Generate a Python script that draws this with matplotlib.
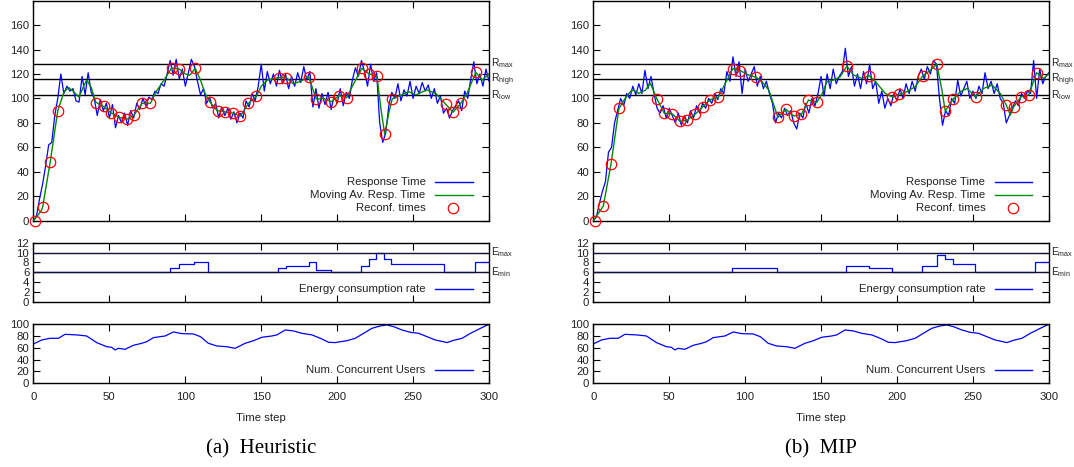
import numpy as np
import matplotlib
matplotlib.use("Agg")
import matplotlib.pyplot as plt
from matplotlib.lines import Line2D

plt.rcParams["font.family"] = ["Liberation Sans", "DejaVu Sans"]
plt.rcParams["mathtext.fontset"] = "custom"
plt.rcParams["mathtext.rm"] = "Liberation Sans"
plt.rcParams["mathtext.it"] = "Liberation Sans:italic"

# ---------------- data ----------------
time_steps = np.arange(0, 301, 2)

rt_heur = [0, 4, 18, 30, 45, 62, 64, 86, 100, 120, 104, 110, 106, 108, 98, 97, 118, 103, 121, 105,
           100, 86, 99, 90, 96, 84, 95, 76, 86, 80, 88, 78, 90, 84, 96, 91, 100, 94, 101, 99,
           106, 104, 112, 110, 120, 131, 119, 132, 116, 124, 110, 121, 132, 126, 114, 103, 108, 96, 101, 92,
           96, 84, 93, 86, 92, 83, 89, 80, 88, 84, 98, 93, 104, 98, 110, 128, 106, 122, 112, 120,
           110, 123, 112, 120, 108, 118, 110, 121, 113, 126, 115, 122, 93, 108, 92, 104, 95, 105, 91, 102,
           96, 108, 94, 105, 100, 115, 125, 118, 131, 122, 110, 128, 114, 121, 80, 64, 72, 94, 105, 100,
           112, 98, 107, 102, 114, 100, 110, 104, 113, 106, 111, 100, 108, 96, 102, 88, 92, 84, 90, 94,
           98, 90, 106, 100, 116, 130, 112, 120, 110, 124, 114]

rt_mip = [0, 3, 14, 24, 32, 56, 60, 80, 90, 100, 94, 104, 100, 110, 103, 112, 104, 123, 108, 118,
          104, 92, 88, 94, 84, 92, 86, 80, 88, 78, 86, 80, 90, 84, 94, 88, 96, 92, 100, 96,
          104, 99, 108, 104, 122, 114, 134, 118, 130, 104, 124, 114, 120, 126, 110, 118, 108, 114, 104, 96,
          80, 88, 84, 92, 86, 90, 80, 75, 88, 84, 96, 88, 100, 94, 104, 118, 102, 120, 108, 124,
          112, 118, 122, 141, 118, 126, 110, 120, 108, 122, 112, 128, 108, 114, 96, 106, 92, 100, 94, 104,
          98, 108, 100, 112, 104, 114, 106, 118, 124, 116, 126, 120, 131, 128, 100, 78, 90, 86, 100, 96,
          115, 102, 108, 114, 100, 106, 100, 110, 104, 121, 108, 114, 104, 112, 100, 96, 80, 86, 92, 98,
          94, 104, 100, 106, 104, 131, 100, 124, 112, 118, 121]

ma_heur_x = [0, 5, 6, 11, 16, 20, 23, 26, 30, 33, 35, 38, 41, 46, 51, 56.5, 61.5, 66, 71.5, 77,
             81, 86, 91, 96, 100, 103, 106.5, 110, 113, 116.3, 121, 126, 131.5, 136.3, 141.6, 146.7, 150, 154, 161.4, 166.4,
             171, 176, 181.2, 186.2, 191, 196.1, 201.2, 206.2, 210, 216.3, 221, 226.2, 229, 231.3, 234, 236.3, 241, 247, 252, 259,
             265, 271.5, 276.3, 281.4, 285.5, 291.3, 295.5, 300]
ma_heur_y = [0, 8, 11, 48, 90, 105, 109, 106, 101, 110, 115, 109, 97, 93.5, 88.3, 84.5, 83, 86, 96, 96,
             106, 115, 125, 124, 120, 119, 124.6, 115, 104, 97, 90, 89, 88, 85.6, 96, 101.7, 110, 115, 117, 117,
             112, 114, 117.8, 99.5, 100, 97.3, 102.2, 100.6, 110, 124.6, 120, 118.3, 90, 70.6, 88, 99.8, 102, 105.5, 103, 107,
             104, 95.2, 88.7, 96, 104, 121.3, 115, 120]

ma_mip_x = [0, 5, 6.6, 11.7, 16.9, 21, 24.4, 26.6, 29.9, 34.3, 37.6, 41.8, 46.8, 52.1, 57.2, 62, 67, 72.1, 77.1, 82.2,
            87, 91.9, 96.9, 102.4, 107.3, 111.2, 115.6, 121.6, 126.8, 132.1, 137.1, 141.7, 147.2, 150.8, 153.8, 158.2, 162.6, 167, 171.4, 176.9,
            181.7, 186.8, 192.3, 196.6, 201.6, 206.5, 212, 216.9, 222, 226.3, 229.6, 231.8, 236.9, 241.7, 246.1, 251.8, 257.1, 262.6, 268, 272,
            274.7, 276.8, 281.8, 286.9, 291.9, 296.7, 300]
ma_mip_y = [0, 9, 12, 46.6, 91.9, 100, 105.5, 106.8, 104.1, 106.8, 112.3, 99.8, 87.8, 87.3, 81.2, 82.3, 87, 93.2, 99, 100.9,
            112.3, 124.3, 122.6, 119.1, 117.2, 113.6, 106.8, 84.5, 91.1, 85.6, 87, 98.7, 96.8, 104, 113.6, 115, 117.7, 126.5, 119.1, 116.4,
            118.6, 112.3, 104.1, 101.4, 103.3, 105.5, 109.6, 118.3, 123.2, 127.9, 106.8, 89.7, 99.3, 105.5, 108.2, 101.4, 108.2, 110.9, 104.1, 94.6,
            86.4, 93, 101.4, 103, 121, 116.4, 120]

reconf_heur_x = [1, 6, 11, 16.4, 41.4, 46.3, 51.3, 56.6, 61.6, 66.2, 71.7, 76.8, 91.1, 96.1, 106.5, 116.3, 121.2, 126.2, 131.5, 136.3,
                 141.6, 146.7, 161.4, 166.4, 181.2, 186.2, 196.1, 201.2, 206.2, 216.3, 221, 226.2, 231.3, 236.3, 271.5, 276.3, 281.4, 291.3]
reconf_heur_y = [0, 11, 48, 90, 96.5, 93.5, 88.3, 84.5, 82.9, 86.2, 96, 96, 124.9, 124, 124.6, 97, 90, 88.9, 88, 85.6,
                 96, 101.7, 117, 117, 117.8, 99.5, 97.3, 102.2, 100.6, 124.6, 120, 118.3, 70.6, 99.8, 95.2, 88.7, 96, 121.3]

reconf_mip_x = [1, 6.6, 11.7, 16.9, 41.8, 46.8, 52.1, 57.2, 62, 67, 72.1, 77.1, 82.2, 91.9, 96.9, 107.3, 121.6, 126.8, 132.1, 137.1,
                141.7, 147.2, 167, 181.7, 196.6, 201.6, 216.9, 226.3, 231.8, 236.9, 251.8, 272, 276.8, 281.8, 286.9, 291.9]
reconf_mip_y = [0, 12, 46.6, 91.9, 99.8, 87.8, 87.3, 81.2, 82.3, 87, 93.2, 99, 100.9, 124.3, 122.6, 117.2, 84.5, 91.1, 85.6, 87,
                98.7, 96.8, 126.5, 118.6, 101.4, 103.3, 118.3, 127.9, 89.7, 99.3, 101.4, 94.6, 93, 101.4, 103, 121]

energy_heur_x = [0, 90, 95.5, 106, 115.2, 161, 166.2, 181.2, 186, 195.9, 215.7, 220.7, 225.6, 230.6, 235.7, 270.6, 290.6, 300]
energy_heur_y = [6, 6.8, 7.6, 8.0, 6, 6.8, 7.2, 8.0, 6.4, 6, 7.2, 8.8, 10, 8.8, 7.6, 6, 8.0, 8.0]

energy_mip_x = [0, 91.2, 121.3, 166.4, 181.3, 196.4, 216.7, 226.6, 231.8, 236.7, 251.6, 291.2, 300]
energy_mip_y = [6, 6.8, 6, 7.2, 6.8, 6, 7.2, 9.6, 8.8, 7.6, 6, 8.0, 8.0]

users_x = [0, 5.4, 10.9, 16.4, 20.8, 28.6, 35, 41.6, 48.2, 51.5, 53.7, 55.9, 60.3, 65.8, 71.3, 74.6, 79, 86.7, 92.2, 97.7,
           105.4, 110, 115.2, 120.7, 127.3, 132.8, 139.4, 145, 150.4, 157, 160.3, 165.8, 171.3, 176.8, 183.4, 188.9, 194.4, 198.8, 206.5, 212,
           217.4, 222.9, 228.4, 232.8, 237.2, 242.7, 248.2, 253.7, 259.2, 264.7, 272.4, 276.8, 282.3, 287.8, 294.4, 300]
users_y = [66.7, 73.4, 76.3, 76.3, 83, 82, 80.2, 69, 62, 61, 56.5, 59.3, 57.6, 64.4, 67.8, 70.6, 77.4, 80.2, 87, 84.2,
           83.6, 79, 67.8, 63.3, 62, 59.3, 67.8, 72.3, 78, 80.2, 82, 90.4, 88.7, 84.7, 82, 76.3, 69.5, 69, 72.3, 76.3,
           84.7, 93.2, 97.2, 98.9, 96, 90.4, 86.4, 84.7, 79, 73.4, 69, 72.9, 76.3, 84.7, 93.2, 100]

r_levels = [128.5, 115.5, 102.7]
r_labels = [r"R$_{\mathrm{max}}$", r"R$_{\mathrm{high}}$", r"R$_{\mathrm{low}}$"]
e_levels = [10, 6]
e_labels = [r"E$_{\mathrm{max}}$", r"E$_{\mathrm{min}}$"]
captions = ["(a)  Heuristic", "(b)  MIP"]

# ---------------- style ----------------
BLUE = "#0000ff"
GREEN = "#008a00"
RED = "#ff0000"
TXT = "#222222"
FS = 8.2
FS_LEVEL = 7.4

fig = plt.figure(figsize=(10.74, 4.67), dpi=100)


def style(ax, yticks, ylim, xlabels):
    ax.set_xlim(0, 300)
    ax.set_ylim(*ylim)
    ax.set_xticks([0, 50, 100, 150, 200, 250, 300])
    ax.set_yticks(yticks)
    ax.tick_params(direction="in", length=5, width=0.8, top=True, right=True,
                   labelsize=FS, colors="black", labelcolor=TXT, pad=3)
    ax.tick_params(axis="x", pad=6)
    if not xlabels:
        ax.tick_params(axis="x", labelbottom=False)
    for s in ax.spines.values():
        s.set_linewidth(1.0)


def legend_entry(ax, yfrac, label, kind, color):
    ax.text(0.861, yfrac, label, transform=ax.transAxes, ha="right", va="center",
            fontsize=FS, color=TXT)
    if kind == "line":
        ax.add_line(Line2D([0.881, 0.964], [yfrac, yfrac], transform=ax.transAxes,
                           color=color, lw=1.0))
    else:
        ax.add_line(Line2D([0.922], [yfrac], transform=ax.transAxes, marker="o",
                           markersize=7.5, mfc="none", mec=color, mew=0.9, ls="none"))


def draw(left, rt, ma_x, ma_y, rc_x, rc_y, en_x, en_y, caption):
    w = 0.42412
    ax1 = fig.add_axes([left, 0.52741, w, 0.47131])
    ax2 = fig.add_axes([left, 0.35332, w, 0.12698])
    ax3 = fig.add_axes([left, 0.17923, w, 0.12634])

    # response time panel
    for lv, lb in zip(r_levels, r_labels):
        ax1.axhline(lv, color="black", lw=1.0, zorder=1)
        ax1.text(1.005, lv, lb, transform=ax1.get_yaxis_transform(), ha="left",
                 va="center", fontsize=FS_LEVEL, color=TXT)
    ax1.plot(time_steps, rt, color=BLUE, lw=0.9, zorder=2)
    ax1.plot(ma_x, ma_y, color=GREEN, lw=1.0, zorder=3)
    ax1.plot(rc_x, rc_y, ls="none", marker="o", markersize=7.5, mfc="none",
             mec=RED, mew=0.9, zorder=4, clip_on=False)
    style(ax1, [0, 20, 40, 60, 80, 100, 120, 140, 160], (0, 180), False)
    legend_entry(ax1, 0.176, "Response Time", "line", BLUE)
    legend_entry(ax1, 0.117, "Moving Av. Resp. Time", "line", GREEN)
    legend_entry(ax1, 0.058, "Reconf. times", "marker", RED)

    # energy panel
    ax2.plot(en_x, en_y, color=BLUE, lw=0.9, drawstyle="steps-post", zorder=2)
    for lv, lb in zip(e_levels, e_labels):
        ax2.axhline(lv, color="#111133", lw=1.0, zorder=3)
        ax2.text(1.005, lv, lb, transform=ax2.get_yaxis_transform(), ha="left",
                 va="center", fontsize=FS_LEVEL, color=TXT)
    style(ax2, [0, 2, 4, 6, 8, 10, 12], (0, 12), False)
    legend_entry(ax2, 0.214, "Energy consumption rate", "line", BLUE)

    # users panel
    ax3.plot(users_x, users_y, color=BLUE, lw=0.9)
    style(ax3, [0, 20, 40, 60, 80, 100], (0, 100), True)
    legend_entry(ax3, 0.225, "Num. Concurrent Users", "line", BLUE)
    ax3.set_xlabel("Time step", fontsize=FS, color=TXT, labelpad=8)

    fig.text(left + w / 2, 1 - 449 / 467, caption, ha="center", va="center",
             fontsize=15, family=["Liberation Serif", "DejaVu Serif"], color="black")


draw(0.03119, rt_heur, ma_heur_x, ma_heur_y, reconf_heur_x, reconf_heur_y,
     energy_heur_x, energy_heur_y, captions[0])
draw(0.55242, rt_mip, ma_mip_x, ma_mip_y, reconf_mip_x, reconf_mip_y,
     energy_mip_x, energy_mip_y, captions[1])

fig.savefig("out.png", dpi=100)
